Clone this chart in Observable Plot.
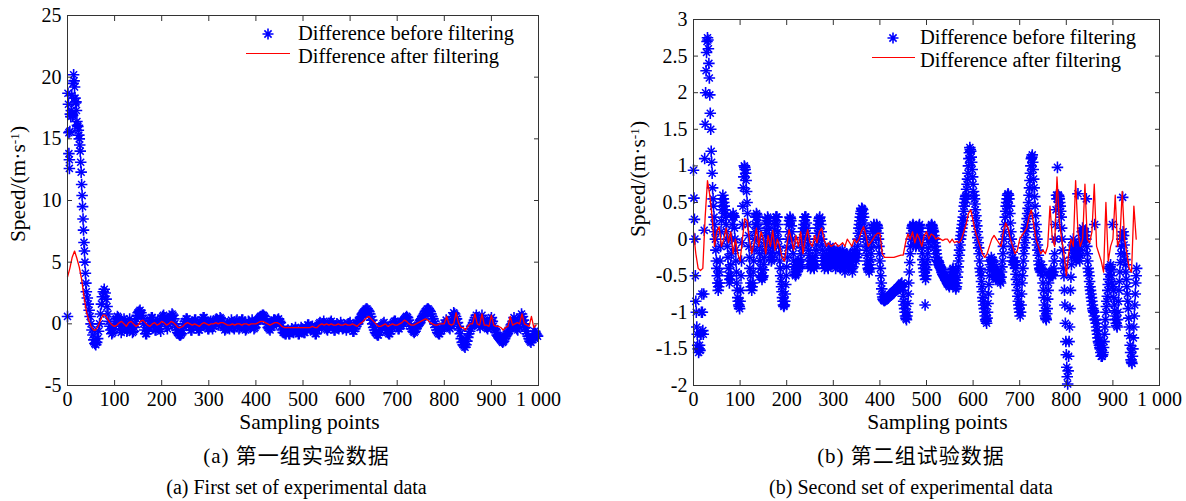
<!DOCTYPE html>
<html><head><meta charset="utf-8">
<script src="https://cdn.jsdelivr.net/npm/d3@7"></script>
<script src="https://cdn.jsdelivr.net/npm/@observablehq/plot@0.6"></script>
<style>
body{margin:0;background:#fff;}
#wrap{position:relative;width:1186px;height:501px;overflow:hidden;font-family:"Liberation Serif","Times New Roman",serif;color:#000;}
.panel{position:absolute;top:0;}
.t{position:absolute;white-space:nowrap;line-height:1;}
.lab{font-size:21.5px;}
.leg{font-size:20.5px;}
.cap{font-size:20px;}
.capzh{font-size:21px;font-family:"Liberation Serif","Noto Sans CJK SC",serif;letter-spacing:1px;}
.sup{font-size:0.62em;vertical-align:0.5em;line-height:0;}
</style></head><body><div id="wrap"></div>
<script>
// ---------- shared ticks ----------
const xTicks = [0, 100, 200, 300, 400, 500, 600, 700, 800, 900, 1000];
const aYTicks = [-5, 0, 5, 10, 15, 20, 25];
const bYTicks = [-2, -1.5, -1, -0.5, 0, 0.5, 1, 1.5, 2, 2.5, 3];

// ---------- (a) first set: difference before filtering ----------
const aHeadIdx = [0, 1, 2, 3, 3, 4, 4, 5, 6, 7, 8, 9, 10, 11, 12, 13, 14, 15, 16, 17, 18, 19, 20, 21, 22, 23, 24, 25, 26, 27, 28, 29, 30, 31, 32, 33, 34, 35, 36, 37, 38, 39];
const aHeadVal = [0.6, 18.7, 17.8, 15.5, 13.8, 13.3, 12.6,
  15.6, 17.0, 16.8, 17.3, 18.5, 17.0, 16.9, 19.5, 20.2, 19.7,
  19.2, 18.3, 17.9, 18.0, 17.3, 16.4, 16.1, 16.0, 15.7, 15.3,
  15.0, 14.5, 14.0, 13.1, 12.3, 11.3, 10.4, 9.5, 8.5, 7.6,
  6.6, 5.9, 5.0, 4.1, 3.3];
// tail: samples 40, 42, 44, ... 998
const aTailStart = 40, aTailStep = 2;
const aTailVal = [
  2.6, 2.1, 1.6, 1.1, 0.6, 0.0, -0.5, -0.9, -1.3, -1.6, -1.7, -1.5, -1.2, -0.6, 0.0, 0.8, 1.6, 2.2, 2.6, 2.8,    // 40
  2.5, 2.0, 1.4, 0.8, 0.2, -0.2, -0.5, -0.8, -0.7, -0.4, -0.2, 0.2, 0.4, 0.6, 0.5, 0.0, -0.4, -0.7, -0.5, 0.0,   // 80
  0.4, 0.2, -0.2, -0.6, -0.5, 0.0, 0.4, 0.1, -0.3, -0.7, -0.6, -0.3, 0.0, 0.4, 0.7, 0.9, 1.0, 1.1, 0.9, 0.7,     // 120
  0.4, 0.0, -0.5, -0.8, -0.8, -0.6, -0.3, 0.0, 0.3, 0.5, 0.5, 0.2, -0.2, -0.5, -0.5, -0.1, 0.3, 0.0, -0.4, -0.6, // 160
  0.4, 0.6, 0.7, 0.5, 0.2, -0.2, -0.4, 0.0, 0.3, 0.5, 0.6, 0.8, 0.7, 0.4, 0.0, -0.3, -0.5, -0.7, -0.8, -0.9,     // 200
  -0.9, -0.8, -0.5, -0.2, 0.0, 0.2, 0.4, 0.4, 0.2, -0.1, -0.3, -0.5, -0.5, -0.2, 0.1, 0.3, 0.3, 0.0, -0.3, -0.5, // 240
  -0.5, -0.3, 0.0, 0.3, 0.5, 0.5, 0.3, 0.0, -0.2, -0.4, -0.4, 0.0, 0.2, -0.1, -0.4, -0.2, 0.1, 0.3, 0.4, 0.2,    // 280
  -0.1, 0.2, 0.5, 0.4, 0.2, -0.1, -0.3, -0.5, -0.4, -0.2, 0.0, -0.3, -0.4, 0.0, 0.3, 0.1, -0.3, -0.4, 0.0, 0.2,  // 320
  0.3, 0.0, -0.4, -0.3, 0.1, 0.3, 0.3, 0.0, -0.3, -0.5, -0.4, -0.1, 0.2, 0.0, -0.3, -0.1, 0.3, 0.1, -0.4, -0.3,  // 360
  0.0, 0.2, 0.3, 0.4, 0.5, 0.6, 0.6, 0.7, 0.7, 0.6, 0.4, 0.2, 0.0, -0.3, -0.4, -0.5, -0.3, 0.0, 0.1, 0.3,       // 400
  0.3, 0.1, 0.0, 0.3, 0.4, 0.2, 0.1, -0.2, -0.5, -0.7, -0.7, -0.8, -0.8, -0.6, -0.5, -0.8, -0.8, -0.6, -0.4, -0.6, // 440
  -0.7, -0.5, -0.3, -0.5, -0.6, -0.8, -0.8, -0.5, -0.3, -0.4, -0.6, -0.7, -0.7, -0.4, -0.3, -0.1, -0.1, -0.3, -0.5, -0.3, // 480
  -0.2, -0.4, -0.6, -0.8, -0.8, -0.5, -0.3, 0.0, 0.1, -0.1, -0.3, 0.0, 0.2, 0.0, -0.2, -0.4, -0.5, -0.3, 0.0, 0.1, // 520
  0.2, 0.0, -0.3, -0.5, -0.5, -0.2, 0.0, -0.2, -0.4, -0.2, 0.1, -0.1, -0.4, -0.3, -0.1, -0.3, -0.5, -0.3, 0.0, 0.0, // 560
  0.1, -0.2, -0.4, -0.6, -0.6, -0.4, -0.2, 0.0, 0.0, 0.2, 0.3, 0.5, 0.6, 0.8, 0.9, 1.0, 1.1, 1.2, 1.2, 1.1,      // 600
  1.0, 0.8, 0.6, 0.3, 0.0, -0.3, -0.5, -0.7, -0.8, -0.9, -0.9, -0.7, -0.5, -0.3, -0.2, 0.0, 0.1, -0.1, -0.3, -0.5, // 640
  -0.7, -0.8, -0.8, -0.6, -0.3, -0.1, 0.1, 0.2, 0.2, 0.0, -0.2, -0.4, -0.4, -0.2, -0.1, 0.1, 0.2, 0.3, 0.4, 0.5,  // 680
  0.6, 0.5, 0.3, 0.0, -0.2, -0.4, -0.4, -0.6, -0.7, -0.6, -0.4, -0.2, -0.1, 0.0, 0.1, 0.3, 0.4, 0.6, 0.7, 0.8,    // 720
  1.0, 1.1, 1.2, 1.2, 1.1, 1.0, 0.8, 0.6, 0.4, 0.2, 0.0, -0.3, -0.5, -0.7, -0.8, -0.8, -0.6, -0.4, -0.2, -0.2,    // 760
  -0.3, 0.0, 0.3, 0.1, -0.1, -0.3, -0.4, 0.0, 0.3, 0.6, 0.9, 0.8, 0.6, 0.4, 0.1, -0.2, -0.5, -0.8, -1.2, -1.5,    // 800
  -1.7, -1.8, -1.9, -1.7, -1.4, -1.1, -0.8, -0.6, -0.4, -0.2, -0.1, 0.1, 0.3, 0.5, 0.7, 0.5, 0.2, -0.1, -0.3, 0.2, // 840
  0.7, 0.4, 0.1, -0.1, -0.2, -0.3, -0.4, -0.2, 0.1, 0.3, 0.5, 0.2, -0.2, -0.4, -0.5, -0.7, -0.9, -1.0, -1.1, -1.2, // 880
  -1.3, -1.4, -1.5, -1.4, -1.2, -1.0, -0.9, -0.8, -0.6, -0.5, -0.3, -0.1, 0.0, 0.2, 0.5, 0.2, -0.2, -0.4, -0.5, -0.2, // 920
  0.2, 0.5, 0.8, 0.6, 0.3, 0.0, -0.3, -0.6, -0.8, -1.0, -1.2, -1.4, -1.5, -1.3, -1.1, -0.8, -0.6, -0.8, -0.9, -1.0  // 960
];
// (a) difference after filtering: samples 0, 5, 10, ... 995
const aAfterStart = 0, aAfterStep = 5;
const aAfterVal = [
  3.8, 4.5, 5.4, 5.9, 5.3, 4.6, 3.6, 2.2,          // 0
  1.0, 0.3, -0.2, -0.5, -0.5, -0.2, 0.3, 0.7,      // 40
  0.7, 0.4, 0.1, -0.1, -0.2, -0.1, 0.1, 0.2,       // 80
  0.0, -0.2, 0.1, 0.2, 0.0, -0.2, -0.1, 0.2,       // 120
  0.3, 0.1, -0.1, -0.2, 0.0, 0.1, -0.1, 0.0,       // 160
  0.2, 0.1, -0.1, 0.0, 0.2, 0.1, -0.1, -0.3,       // 200
  -0.3, -0.2, 0.0, 0.1, 0.0, -0.1, 0.0, -0.1,      // 240
  -0.2, 0.0, 0.1, 0.0, -0.1, 0.0, 0.0, 0.1,        // 280
  0.0, 0.1, 0.1, 0.0, -0.1, -0.1, 0.0, -0.1,       // 320
  0.0, 0.0, -0.1, 0.0, 0.0, -0.1, 0.0, 0.0,        // 360
  0.0, 0.1, 0.2, 0.2, 0.1, 0.0, -0.1, 0.0,         // 400
  0.1, 0.1, 0.0, -0.2, -0.3, -0.3, -0.3, -0.3,     // 440
  -0.3, -0.3, -0.3, -0.3, -0.3, -0.3, -0.3, -0.3,  // 480
  -0.2, -0.3, -0.3, -0.1, 0.0, -0.1, 0.0, -0.1,    // 520
  0.0, -0.1, -0.1, 0.0, -0.1, -0.1, 0.0, -0.1,     // 560
  -0.1, 0.0, -0.1, -0.2, 0.0, 0.1, 0.3, 0.5,       // 600
  0.6, 0.4, 0.2, 0.0, -0.2, -0.2, -0.1, 0.0,       // 640
  -0.2, -0.1, 0.0, -0.1, -0.1, 0.0, 0.1, 0.3,      // 680
  0.2, 0.0, -0.1, -0.1, 0.0, 0.1, 0.2, 0.3,        // 720
  0.4, 0.3, 0.1, 0.0, -0.1, -0.1, 0.0, 0.0,        // 760
  0.0, 0.6, 0.0, -0.1, 0.0, 0.9, 0.1, -0.3,        // 800
  -0.3, -0.5, -0.2, 0.0, 0.0, 0.8, 0.0, -0.1,      // 840
  0.8, -0.1, -0.1, -0.2, 0.7, -0.1, -0.2, -0.2,    // 880
  -0.3, -0.5, -0.3, -0.2, 0.6, -0.1, 0.0, 0.1,     // 920
  0.0, 0.8, 0.0, -0.1, -0.2, 0.6, -0.3, -0.1       // 960
];

// ---------- (b) second set: difference before filtering, samples 0, 1, 2, ... 951 ----------
const bBeforeStart = 0, bBeforeStep = 1;
const bBeforeVal = [
  0.94, 0.56, 0.27, 0.0, -0.5, -0.85, -1.0, -1.2, -1.3, -1.45,   // 0
  -1.5, -1.55, -1.5, -1.45, -1.52, -1.3, -1.3, -1.0, -0.75, -1.0, // 10
  -1.25, -1.3, -0.75, 0.12, 1.1, 1.57, 2.0, 2.3, 2.55, 2.7,     // 20
  2.75, 2.72, 2.6, 2.4, 2.2, 1.97, 1.72, 1.5, 1.2, 1.05,        // 30
  0.9, 0.7, 0.55, 0.45, 0.3,                                    // 40
  0.2, 0.1, 0.0, -0.15, -0.3, -0.4, -0.5, -0.6, -0.7, -0.65, -0.6, -0.45, -0.3, -0.1, 0.1, 0.25, 0.4, 0.5, 0.6, 0.55, 0.5, 0.45, 0.4, 0.35, 0.3, 0.2, 0.1, 0.0, -0.1, -0.25, // 45
  -0.4, -0.5, -0.6, -0.55, -0.5, -0.35, -0.2, 0.0, 0.2, 0.3, 0.35, 0.32, 0.3, 0.15, 0.0, -0.15, -0.3, -0.45, -0.6, -0.7, -0.8, -0.85, -0.9, -0.92, -0.95, -0.85, -0.7, -0.5, -0.3, -0.05, // 75
  0.2, 0.45, 0.7, 0.85, 1.0, 0.98, 0.95, 0.9, 0.8, 0.65, 0.5, 0.35, 0.2, 0.05, -0.1, -0.25, -0.4, -0.5, -0.6, -0.65, -0.7, -0.65, -0.6, -0.45, -0.3, -0.15, 0.0, 0.1, 0.2, 0.3, // 105
  0.35, 0.33, 0.3, 0.22, 0.15, 0.0, -0.1, -0.2, -0.3, -0.4, -0.5, -0.52, -0.55, -0.52, -0.5, -0.42, -0.35, -0.25, -0.15, -0.05, 0.05, 0.12, 0.2, 0.25, 0.3, 0.28, 0.25, 0.15, 0.05, -0.02, // 135
  -0.1, -0.2, -0.3, -0.28, -0.25, -0.18, -0.1, -0.02, 0.05, 0.12, 0.2, 0.25, 0.3, 0.3, 0.3, 0.2, 0.1, 0.0, -0.1, -0.2, -0.3, -0.4, -0.5, -0.58, -0.65, -0.72, -0.8, -0.85, -0.9, -0.92, // 165
  -0.9, -0.85, -0.75, -0.62, -0.5, -0.38, -0.25, -0.12, 0.0, 0.1, 0.2, 0.25, 0.3, 0.28, 0.25, 0.18, 0.1, 0.0, -0.1, -0.2, -0.3, -0.38, -0.45, -0.48, -0.5, -0.48, -0.45, -0.4, -0.35, -0.32, // 195
  -0.3, -0.35, -0.4, -0.38, -0.35, -0.28, -0.2, -0.12, -0.05, 0.02, 0.1, 0.15, 0.2, 0.25, 0.3, 0.3, 0.3, 0.22, 0.15, 0.08, 0.0, -0.08, -0.15, -0.22, -0.3, -0.35, -0.4, -0.38, -0.35, -0.3, // 225
  -0.25, -0.3, -0.35, -0.38, -0.4, -0.35, -0.3, -0.22, -0.15, -0.08, 0.0, 0.08, 0.15, 0.2, 0.25, 0.28, 0.3, 0.25, 0.2, 0.1, 0.0, -0.08, -0.15, -0.22, -0.3, -0.35, -0.4, -0.35, -0.3, -0.25, // 255
  -0.2, -0.28, -0.35, -0.38, -0.4, -0.32, -0.25, -0.18, -0.1, -0.15, -0.2, -0.28, -0.35, -0.32, -0.3, -0.22, -0.15, -0.2, -0.25, -0.32, -0.4, -0.35, -0.3, -0.22, -0.15, -0.18, -0.2, -0.28, -0.35, -0.38, // 285
  -0.4, -0.35, -0.3, -0.22, -0.15, -0.18, -0.2, -0.28, -0.35, -0.4, -0.45, -0.38, -0.3, -0.25, -0.2, -0.25, -0.3, -0.35, -0.4, -0.35, -0.3, -0.25, -0.2, -0.28, -0.35, -0.4, -0.45, -0.38, -0.3, -0.22, // 315
  -0.15, -0.18, -0.2, -0.25, -0.3, -0.25, -0.2, -0.1, 0.0, 0.08, 0.15, 0.2, 0.25, 0.3, 0.35, 0.38, 0.42, 0.41, 0.4, 0.35, 0.3, 0.22, 0.15, 0.08, 0.0, -0.08, -0.15, -0.22, -0.3, -0.35, // 345
  -0.4, -0.42, -0.45, -0.4, -0.35, -0.28, -0.2, -0.12, -0.05, 0.02, 0.1, 0.15, 0.2, 0.18, 0.15, 0.12, 0.1, 0.15, 0.2, 0.18, 0.15, 0.08, 0.0, -0.1, -0.2, -0.3, -0.4, -0.5, -0.6, -0.68, // 375
  -0.75, -0.79, -0.82, -0.83, -0.84, -0.84, -0.83, -0.83, -0.82, -0.81, -0.8, -0.8, -0.79, -0.79, -0.78, -0.78, -0.77, -0.77, -0.76, -0.76, -0.75, -0.74, -0.73, -0.73, -0.72, -0.72, -0.71, -0.71, -0.7, -0.7, // 405
  -0.69, -0.68, -0.67, -0.67, -0.66, -0.66, -0.65, -0.64, -0.63, -0.63, -0.62, -0.61, -0.6, -0.65, -0.7, -0.78, -0.85, -0.9, -0.95, -1.0, -1.05, -1.08, -1.1, -1.05, -1.0, -0.88, -0.75, -0.6, -0.45, -0.32, // 435
  -0.2, -0.1, 0.0, 0.08, 0.15, 0.18, 0.2, 0.18, 0.15, 0.1, 0.05, -0.02, -0.1, -0.08, -0.05, 0.0, 0.05, 0.1, 0.15, 0.18, 0.2, 0.15, 0.1, 0.02, -0.05, -0.12, -0.2, -0.28, -0.35, -0.4, // 465
  -0.45, -0.5, -0.9, -0.55, -0.5, -0.42, -0.35, -0.28, -0.2, -0.12, -0.05, 0.0, 0.05, 0.1, 0.15, 0.18, 0.2, 0.18, 0.15, 0.12, 0.1, 0.05, 0.0, -0.05, -0.1, -0.15, -0.2, -0.25, -0.3, -0.3, // 495
  -0.3, -0.32, -0.35, -0.36, -0.38, -0.39, -0.4, -0.42, -0.45, -0.46, -0.48, -0.49, -0.5, -0.51, -0.52, -0.53, -0.55, -0.56, -0.57, -0.58, -0.6, -0.61, -0.62, -0.63, -0.65, -0.62, -0.6, -0.58, -0.55, -0.5, // 525
  -0.45, -0.42, -0.4, -0.45, -0.5, -0.55, -0.6, -0.65, -0.68, -0.65, -0.6, -0.52, -0.45, -0.38, -0.3, -0.22, -0.15, -0.08, 0.0, 0.05, 0.1, 0.15, 0.2, 0.25, 0.3, 0.38, 0.45, 0.5, 0.55, 0.58, // 555
  0.6, 0.68, 0.75, 0.82, 0.9, 1.0, 1.1, 1.18, 1.25, 1.22, 1.2, 1.12, 1.05, 0.95, 0.85, 0.75, 0.65, 0.6, 0.55, 0.48, 0.4, 0.32, 0.25, 0.18, 0.1, 0.02, -0.05, -0.12, -0.2, -0.3, // 585
  -0.4, -0.45, -0.5, -0.58, -0.65, -0.72, -0.8, -0.85, -0.9, -0.95, -1.0, -1.05, -1.1, -1.12, -1.15, -1.08, -1.0, -0.88, -0.75, -0.62, -0.5, -0.42, -0.35, -0.3, -0.25, -0.28, -0.3, -0.32, -0.35, -0.38, // 615
  -0.4, -0.45, -0.5, -0.52, -0.55, -0.52, -0.5, -0.48, -0.45, -0.48, -0.5, -0.52, -0.55, -0.58, -0.6, -0.52, -0.45, -0.38, -0.3, -0.2, -0.1, 0.0, 0.1, 0.2, 0.3, 0.38, 0.45, 0.5, 0.55, 0.6, // 645
  0.62, 0.6, 0.55, 0.45, 0.35, 0.22, 0.1, 0.0, -0.1, -0.18, -0.25, -0.3, -0.35, -0.32, -0.3, -0.35, -0.4, -0.48, -0.55, -0.62, -0.7, -0.78, -0.85, -0.9, -0.95, -1.0, -1.05, -1.0, -0.9, -0.75, // 675
  -0.6, -0.5, -0.4, -0.3, -0.2, -0.12, -0.05, 0.02, 0.1, 0.15, 0.2, 0.28, 0.35, 0.42, 0.5, 0.6, 0.7, 0.8, 0.9, 1.0, 1.1, 1.12, 1.15, 1.05, 0.95, 0.82, 0.7, 0.58, 0.45, 0.32, // 705
  0.2, 0.1, 0.0, -0.08, -0.15, -0.22, -0.3, -0.35, -0.4, -0.42, -0.45, -0.4, -0.35, -0.42, -0.5, -0.6, -0.7, -0.8, -0.9, -0.98, -1.05, -1.08, -1.1, -1.02, -0.95, -0.82, -0.7, -0.6, -0.5, -0.48, // 735
  -0.45, -0.48, -0.5, -0.48, -0.45, -0.48, -0.5, -0.45, -0.4, -0.3, -0.2, 0.0, 0.2, 0.4, 0.6, 0.55, 0.98, 0.6, 0.6, 0.58, 0.55, 0.5, 0.45, 0.38, 0.3, 0.15, 0.0, -0.15, -0.3, -0.4, // 765
  -0.5, -0.7, -0.9, -1.15, -1.4, -1.58, -1.75, -1.88, -1.98, -1.8, -1.6, -1.4, -1.2, -0.95, -0.7, -0.52, -0.35, -0.25, -0.15, -0.08, 0.0, -0.05, -0.1, -0.15, -0.2, -0.25, -0.3, -0.25, -0.2, -0.15, // 795
  0.62, -0.05, -0.1, -0.2, -0.3, -0.22, -0.15, -0.05, 0.05, 0.1, 0.15, 0.12, 0.1, 0.05, 0.0, 0.05, 0.1, 0.0, 0.55, -0.1, -0.2, -0.3, -0.4, -0.45, -0.5, -0.58, -0.65, -0.7, -0.75, -0.8, // 825
  -0.85, -0.9, -0.95, -0.98, -1.0, -1.05, 0.2, -1.1, -1.1, -1.15, -1.2, -1.25, -1.3, -1.35, -1.4, -1.42, -1.45, -1.48, -1.5, -1.55, -1.6, -1.6, -1.6, -1.58, -1.55, -1.48, -1.4, -1.3, -1.2, -1.1, // 855
  -1.0, -0.92, -0.85, -0.78, -0.7, -0.62, -0.55, -0.48, -0.4, -0.38, -0.35, -0.42, -0.5, -0.6, 0.2, -0.65, -0.7, -0.8, -0.9, -0.98, -1.05, -1.1, -1.15, -1.18, -1.2, -1.1, -1.0, -0.85, -0.7, -0.58, // 885
  -0.45, -0.32, -0.2, -0.1, 0.0, 0.05, 0.57, 0.1, 0.05, -0.08, -0.2, -0.28, -0.35, -0.45, -0.55, -0.65, -0.75, -0.85, -0.95, -1.08, -1.2, -1.32, -1.45, -1.55, -1.65, -1.68, -1.7, -1.6, -1.5, -1.35, // 915
  -1.2, -1.05, -0.9, -0.75, -0.6, -0.5, -0.4                                                      // 945
];
// (b) difference after filtering: samples 0, 5, 10, ... 950
const bAfterStart = 0, bAfterStep = 5;
const bAfterVal = [
  0.1, -0.2, -0.4, -0.43, -0.4, 0.3, 0.8, 0.6,          // 0
  0.3, -0.1, 0.1, 0.17, -0.1, 0.0, 0.15, -0.05,         // 40
  0.1, -0.2, 0.0, -0.2, -0.3, 0.0, 0.28, 0.25,          // 80
  0.0, -0.2, -0.05, 0.15, -0.1, 0.1, 0.0, -0.2,         // 120
  0.05, -0.1, 0.12, -0.15, 0.0, -0.1, -0.25, -0.3,      // 160
  -0.1, 0.13, 0.0, -0.15, 0.05, -0.1, 0.1, -0.2,        // 200
  0.0, 0.13, -0.05, -0.1, 0.05, -0.05, 0.1, 0.15,       // 240
  0.0, -0.1, -0.05, -0.1, -0.08, -0.05, -0.1, -0.08,    // 280
  -0.05, -0.1, 0.0, -0.05, -0.1, 0.0, -0.05, 0.0,       // 320
  0.1, 0.17, 0.05, -0.1, -0.05, 0.0, 0.05, 0.08,        // 360
  0.08, -0.2, -0.25, -0.25, -0.25, -0.25, -0.25, -0.24, // 400
  -0.23, -0.22, -0.22, -0.05, 0.07, 0.0, 0.1, -0.05,    // 440
  0.07, 0.0, -0.1, 0.05, 0.1, 0.0, 0.07, 0.05,          // 480
  0.0, 0.02, 0.0, -0.02, 0.0, 0.0, -0.05, 0.0,          // 520
  -0.05, -0.03, -0.05, 0.0, 0.1, 0.2, 0.35, 0.4,        // 560
  0.25, 0.1, 0.0, -0.1, -0.2, -0.25, -0.2, -0.1,        // 600
  0.0, 0.05, 0.0, -0.05, -0.1, 0.1, 0.22, 0.15,         // 640
  0.0, -0.1, -0.2, -0.15, 0.0, 0.05, 0.1, 0.15,         // 680
  0.3, 0.4, 0.2, 0.0, -0.1, -0.2, -0.15, -0.2,          // 720
  -0.1, 0.45, 0.0, -0.1, 0.85, 0.25, 0.0, -0.2,         // 760
  -0.5, -0.2, 0.0, -0.1, 0.8, 0.1, -0.1, 0.0,           // 800
  0.75, 0.0, -0.05, 0.1, 0.75, -0.1, -0.2, -0.3,        // 840
  -0.45, 0.5, -0.3, -0.1, 0.0, 0.6, -0.1, 0.0,          // 880
  0.65, 0.0, -0.2, -0.4, -0.45, 0.45, 0.0               // 920
];

// ---------- build tables ----------
const seq = (vals, start, step) => vals.map((v, i) => ({x: start + i * step, y: v}));
const aBefore = aHeadIdx.map((x, i) => ({x, y: aHeadVal[i]})).concat(seq(aTailVal, aTailStart, aTailStep));
const aAfter = seq(aAfterVal, aAfterStart, aAfterStep);
const bBefore = seq(bBeforeVal, bBeforeStart, bBeforeStep);
const bAfter = seq(bAfterVal, bAfterStart, bAfterStep);

const fmtX = d => d === 1000 ? "1 000" : String(d);
const fmtY = d => String(d);
const blank = () => "";

function panel(before, after, yDomain, yTicks, m) {
  return Plot.plot({
    width: 593, height: 440,
    marginLeft: m.left, marginRight: m.right, marginTop: m.top, marginBottom: m.bottom,
    x: {domain: [0, 1000]},
    y: {domain: yDomain},
    style: {fontFamily: "'Liberation Serif', 'Times New Roman', serif", fontSize: "20px", color: "#000", background: "transparent", overflow: "visible"},
    marks: [
      Plot.dot(before, {x: "x", y: "y", symbol: "plus", r: 3.8, stroke: "#0000ff", strokeWidth: 1.6}),
      Plot.dot(before, {x: "x", y: "y", symbol: "times", r: 3.3, stroke: "#0000ff", strokeWidth: 1.5}),
      Plot.line(after, {x: "x", y: "y", stroke: "#ff0000", strokeWidth: 1.3}),
      Plot.frame({stroke: "#333"}),
      Plot.axisX({anchor: "bottom", ticks: xTicks, tickSize: -5, tickPadding: 11, tickFormat: fmtX, label: null, stroke: "#333"}),
      Plot.axisX({anchor: "top", ticks: xTicks, tickSize: -5, tickFormat: blank, label: null, stroke: "#333"}),
      Plot.axisY({anchor: "left", ticks: yTicks, tickSize: -5, tickPadding: 11, tickFormat: fmtY, label: null, stroke: "#333"}),
      Plot.axisY({anchor: "right", ticks: yTicks, tickSize: -5, tickFormat: blank, label: null, stroke: "#333"})
    ]
  });
}

const wrap = document.getElementById("wrap");
const pa = panel(aBefore, aAfter, [-5, 25], aYTicks, {left: 67, right: 55, top: 15, bottom: 55});
const pb = panel(bBefore, bAfter, [-2, 3], bYTicks, {left: 100, right: 27, top: 19, bottom: 55});
const da = document.createElement("div"); da.className = "panel"; da.style.left = "0px"; da.appendChild(pa); wrap.appendChild(da);
const db = document.createElement("div"); db.className = "panel"; db.style.left = "593px"; db.appendChild(pb); wrap.appendChild(db);

const starSvg = '<svg width="14" height="14" viewBox="-7 -7 14 14"><g stroke="#0000ff" stroke-width="1.6" fill="none"><path d="M0,-5.5V5.5M-5.5,0H5.5M-3.6,-3.6L3.6,3.6M-3.6,3.6L3.6,-3.6"/></g></svg>';
function addText(html, cls, style) {
  const el = document.createElement("div");
  el.className = "t " + cls;
  el.innerHTML = html;
  Object.assign(el.style, style);
  wrap.appendChild(el);
  return el;
}
const legendBefore = "Difference before filtering", legendAfter = "Difference after filtering";
const yLabel = 'Speed/(m·s<span class="sup">-1</span>)';
// legend (a)
addText(starSvg, "", {left: "261px", top: "27px"});
addText("", "", {left: "246px", top: "53px", width: "44px", height: "0", borderTop: "1.5px solid #ff0000"});
addText(legendBefore, "leg", {left: "298px", top: "23px"});
addText(legendAfter, "leg", {left: "298px", top: "46px"});
// legend (b)
addText(starSvg, "", {left: "886px", top: "31px"});
addText("", "", {left: "872px", top: "57px", width: "43px", height: "0", borderTop: "1.5px solid #ff0000"});
addText(legendBefore, "leg", {left: "920px", top: "26.5px"});
addText(legendAfter, "leg", {left: "920px", top: "49.5px"});
// axis titles
addText(yLabel, "lab", {left: "18.5px", top: "184px", transform: "translate(-50%,-50%) rotate(-90deg)"});
addText(yLabel, "lab", {left: "638.5px", top: "179px", transform: "translate(-50%,-50%) rotate(-90deg)"});
addText("Sampling points", "lab", {left: "309.5px", top: "412px", transform: "translateX(-50%)"});
addText("Sampling points", "lab", {left: "937.5px", top: "412px", transform: "translateX(-50%)"});
// captions
addText("(a) 第一组实验数据", "capzh", {left: "296.5px", top: "446px", transform: "translateX(-50%)"});
addText("(a) First set of experimental data", "cap", {left: "296.5px", top: "477px", transform: "translateX(-50%)"});
addText("(b) 第二组试验数据", "capzh", {left: "911px", top: "446px", transform: "translateX(-50%)"});
addText("(b) Second set of experimental data", "cap", {left: "911px", top: "477px", transform: "translateX(-50%)"});
</script>
</body></html>
